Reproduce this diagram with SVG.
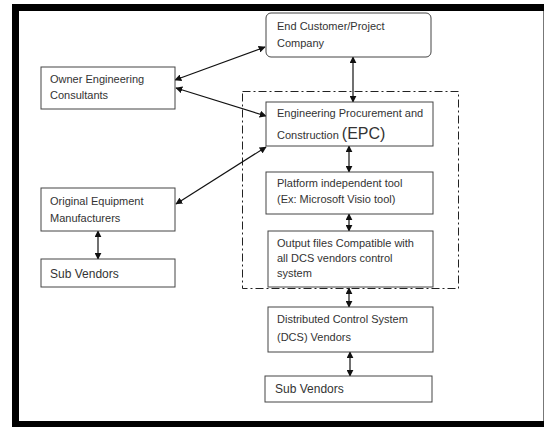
<svg xmlns="http://www.w3.org/2000/svg" width="545" height="427" viewBox="0 0 545 427">
<style>
.box{fill:#fff;stroke:#444;stroke-width:1}
.t{font-family:"Liberation Sans",Arial,sans-serif;font-size:11px;fill:#333}
.tl{font-family:"Liberation Sans",Arial,sans-serif;font-size:12px;fill:#333}
.c{stroke:#111;stroke-width:1.2;fill:none;marker-start:url(#ah);marker-end:url(#ah)}
</style>
<defs>
<marker id="ah" viewBox="0 0 10 10" refX="9" refY="5" markerWidth="7" markerHeight="7" markerUnits="userSpaceOnUse" orient="auto-start-reverse">
<path d="M0,0 L10,5 L0,10 z" fill="#111"/>
</marker>
</defs>
<rect width="545" height="427" fill="#fff"/>
<g id="frame">
<rect x="12" y="4" width="532" height="423" fill="#000"/>
<rect x="19" y="11" width="524" height="410" fill="#fff"/>
<line x1="543.5" y1="11" x2="543.5" y2="421" stroke="#777" stroke-width="1"/>
</g>
<g id="container">
<rect x="242.5" y="91.5" width="216" height="197" fill="none" stroke="#222" stroke-width="1" stroke-dasharray="8,3,2,3"/>
</g>
<g id="connectors">
<line class="c" x1="175" y1="80" x2="265" y2="47"/>
<line class="c" x1="176" y1="88" x2="266" y2="116"/>
<line class="c" x1="176" y1="204" x2="266" y2="147"/>
<line class="c" x1="353" y1="57" x2="353" y2="102"/>
<line class="c" x1="349" y1="146" x2="349" y2="172"/>
<line class="c" x1="349" y1="214" x2="349" y2="231"/>
<line class="c" x1="349" y1="288" x2="349" y2="307"/>
<line class="c" x1="350" y1="352" x2="350" y2="376"/>
<line class="c" x1="98" y1="231" x2="98" y2="259"/>
</g>
<g id="end-customer">
<rect class="box" x="266" y="13" width="165" height="44" rx="5"/>
<text class="t" x="277" y="30">End Customer/Project</text>
<text class="t" x="277" y="47">Company</text>
</g>
<g id="owner">
<rect class="box" x="41" y="67" width="134" height="42"/>
<text class="t" x="50" y="83">Owner Engineering</text>
<text class="t" x="50" y="99">Consultants</text>
</g>
<g id="epc">
<rect class="box" x="266" y="102" width="167" height="44"/>
<text class="t" x="277" y="117">Engineering Procurement and</text>
<text class="t" x="277" y="139">Construction <tspan font-size="16">(EPC)</tspan></text>
</g>
<g id="platform">
<rect class="box" x="266" y="172" width="167" height="42"/>
<text class="t" x="277" y="187">Platform independent tool</text>
<text class="t" x="277" y="203">(Ex: Microsoft Visio tool)</text>
</g>
<g id="output">
<rect class="box" x="268" y="231" width="165" height="56"/>
<text class="t" x="277" y="247">Output files Compatible with</text>
<text class="t" x="277" y="262">all DCS vendors control</text>
<text class="t" x="277" y="277">system</text>
</g>
<g id="oem">
<rect class="box" x="41" y="188" width="134" height="43"/>
<text class="t" x="50" y="205">Original Equipment</text>
<text class="t" x="50" y="222">Manufacturers</text>
</g>
<g id="sub-vendors-left">
<rect class="box" x="41" y="259" width="134" height="28"/>
<text class="tl" x="50" y="278">Sub Vendors</text>
</g>
<g id="dcs">
<rect class="box" x="268" y="307" width="165" height="45"/>
<text class="t" x="277" y="323">Distributed Control System</text>
<text class="t" x="277" y="341">(DCS) Vendors</text>
</g>
<g id="sub-vendors-bottom">
<rect class="box" x="265" y="376" width="167" height="26"/>
<text class="tl" x="275" y="393">Sub Vendors</text>
</g>
</svg>
